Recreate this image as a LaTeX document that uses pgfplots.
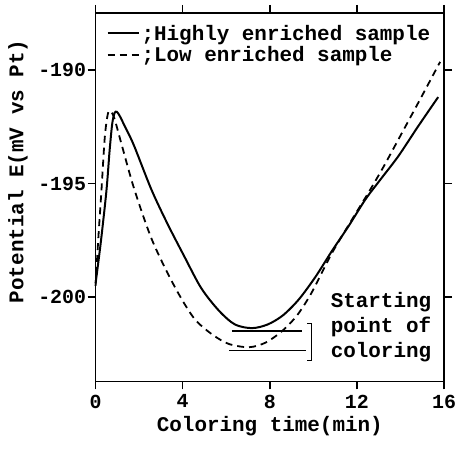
\documentclass[border=0pt]{standalone}
\usepackage{fontspec}
\setmainfont{Liberation Mono}
\usepackage{pgfplots}
\pgfplotsset{compat=1.18}
\begin{document}
\begin{tikzpicture}[font=\fontsize{21}{25}\selectfont\bfseries]
\begin{axis}[
  at={(0,0)}, anchor=south west,
  scale only axis, width=350pt, height=370pt,
  xmin=0, xmax=16, ymin=-203.7, ymax=-187.5,
  xtick={0,4,8,12,16}, xticklabels={0,4,8,12,16},
  ytick={-200,-195,-190}, yticklabels={-200,-195,-190},
  tick align=outside, major tick length=8pt,
  tick style={line width=1.6pt, black},
  axis line style={line width=1.6pt},
  ticklabel style={font=\fontsize{20}{24}\selectfont\bfseries},
  xticklabel style={yshift=-2pt},
  yticklabel style={xshift=2pt},
  xlabel={Coloring time(min)},
  ylabel={Potential E(mV vs Pt)},
  xlabel style={at={(axis description cs:0.5,0)}, anchor=center, yshift=-45pt},
  ylabel style={at={(axis description cs:-0.223,0.57)}, anchor=center},
  legend image code/.code={\draw[#1] (0pt,0pt) -- (31pt,0pt);},
  legend style={at={(rel axis cs:0,1)}, anchor=north west, draw=none, fill=none,
    font=\fontsize{21}{25}\selectfont\bfseries, xshift=9pt, yshift=-8pt,
    row sep=1pt, inner xsep=2pt, inner ysep=2pt},
  legend cell align=left,
  clip=false,
]
\addplot[black, line width=2pt, smooth, tension=0.5] coordinates {
(0.0,-199.4) (0.25,-197.5) (0.5,-195.3) (0.64,-193.6) (0.76,-192.4)
(0.87,-191.9) (0.98,-191.85) (1.12,-192.05) (1.35,-192.5) (1.75,-193.3)
(2.56,-195.26) (3.29,-196.75)
(4.07,-198.2) (4.85,-199.6) (5.67,-200.6) (6.4,-201.2) (7.18,-201.36)
(7.9,-201.2) (8.6,-200.8) (9.33,-200.1) (10.1,-199.1) (10.83,-198.0)
(11.6,-196.9) (12.39,-195.7) (13.1,-194.8) (13.9,-193.8) (14.8,-192.5)
(15.73,-191.2)
};
\addlegendentry{;Highly enriched sample}
\addplot[black, line width=1.8pt, dash pattern=on 7pt off 5pt, smooth, tension=0.5] coordinates {
(0.0,-199.5) (0.12,-197.5) (0.27,-195.3) (0.42,-193.0) (0.55,-192.0) (0.66,-191.8)
(0.85,-192.1) (1.2,-193.3) (1.78,-195.26) (2.6,-197.5) (3.61,-199.5)
(4.5,-200.9) (5.3,-201.6) (6.1,-202.05) (7.04,-202.2) (7.8,-202.0)
(8.55,-201.5) (9.25,-200.8) (9.92,-199.8) (10.83,-198.1) (11.7,-196.7)
(12.53,-195.4) (13.2,-194.3) (13.9,-193.07) (14.9,-191.3) (15.82,-189.65)
};
\addlegendentry{;Low enriched sample}
\addplot[black, line width=1.2pt, forget plot] coordinates {(6.26,-201.49) (9.46,-201.49)};
\addplot[black, line width=1.2pt, forget plot] coordinates {(6.13,-202.35) (9.65,-202.35)};
\draw[line width=1.5pt] (axis cs:9.72,-201.16) -- (axis cs:9.92,-201.16) -- (axis cs:9.92,-202.78) -- (axis cs:9.72,-202.78);
\node[anchor=west, align=left, font=\fontsize{21}{25}\selectfont\bfseries, inner sep=0pt] at (axis cs:10.79,-201.3) {Starting\\point of\\coloring};
\end{axis}
\pgfresetboundingbox
\path[use as bounding box] (-96pt,-68pt) rectangle (362pt,383pt);
\end{tikzpicture}
\end{document}
